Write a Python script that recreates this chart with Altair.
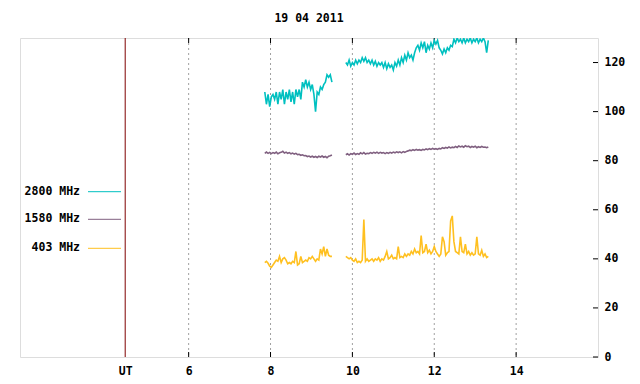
import altair as alt
import pandas as pd

# ---- data ----
title_text = "19 04 2011"
series_names = ["2800 MHz", "1580 MHz", "403 MHz"]
series_colors = ["#00c0c0", "#806080", "#ffc020"]

x_ticks = [6, 8, 10, 12, 14]
y_ticks = [0, 20, 40, 60, 80, 100, 120]
ut_hour = 4.45
x_domain = [1.88, 16.0]
y_domain = [0, 130]

seg1_start, seg2_start, step = 7.86, 9.84, 0.04

f2800_seg1 = [108, 103, 107, 102, 106, 107, 105, 108, 103, 108, 105, 109, 103, 108,
              105, 109, 104, 108, 103, 109, 106, 109, 105, 112, 110, 113, 110, 112,
              109, 111, 107, 100, 108, 107, 110, 109, 111, 112, 115, 114, 115, 112]
f2800_seg2 = [120, 119, 121, 118.5, 120, 119, 121, 119.5, 121, 120, 122, 120.5, 122, 120,
              121, 119.5, 121, 119, 120.5, 118.5, 120, 119, 120, 118, 120, 117.5, 119.5,
              118, 119, 117, 120, 118.5, 121, 119, 122, 120, 123, 121, 124, 122, 123, 121,
              124, 126, 127, 125, 128, 126, 128.5, 124, 127, 125.5, 128, 126, 129, 127.5,
              129, 126, 125, 123.5, 125.5, 124, 126, 125, 127, 126.5, 129.5, 128, 130,
              128.5, 129.5, 128, 130, 128, 129.5, 128.5, 130, 128, 129.5, 128.5, 130, 128,
              129.5, 128.5, 130, 128.5, 124, 129]

f1580_seg1 = [83, 83.5, 83, 83.4, 82.9, 83.3, 83, 83.5, 82.8, 83.2, 83.4, 83.8, 83.1, 83.5,
              83, 83.3, 82.8, 83.1, 82.7, 83, 82.5, 82.6, 82.2, 82.4, 82, 82.1, 81.7, 81.9,
              81.5, 81.8, 81.4, 81.7, 81.3, 81.8, 81.5, 81.9, 81.4, 81.7, 81.2, 81.8, 82, 82.3]
f1580_seg2 = [82.4, 82.8, 82.3, 82.9, 82.6, 83.1, 82.5, 82.9, 82.6, 83.2, 82.8, 83.3, 82.7,
              83, 82.9, 83.3, 83, 83.4, 83.1, 83.5, 83, 83.4, 83.1, 83.3, 82.9, 83.3, 83,
              83.4, 83.1, 83.5, 83.2, 83.6, 83.3, 83.6, 83.2, 83.7, 83.4, 83.8, 84, 84.3,
              84.1, 84.5, 84.2, 84.6, 84.3, 84.5, 84.2, 84.6, 84.4, 84.8, 84.5, 84.9, 84.6,
              85, 84.7, 84.9, 84.6, 85, 84.8, 85.3, 85, 85.4, 85.1, 85.6, 85.2, 85.5, 85.3,
              85.8, 85.4, 86, 85.6, 85.9, 85.5, 86.1, 85.7, 85.9, 85.4, 85.8, 85.5, 85.9,
              85.3, 85.7, 85.4, 85.8, 85.5, 85.6, 85.3, 85.6]

f403_seg1 = [38.5, 39, 38.2, 37, 36.5, 37.5, 38.5, 39.5, 39, 41, 38.5, 40, 40.5, 39.5,
             38, 38.5, 38, 39, 38.5, 43, 37.5, 38, 41, 38.5, 39, 39.5, 39, 40.5, 40, 41,
             40, 39, 40, 39.5, 44, 42, 45, 41, 44, 41.5, 41, 41]
f403_seg2 = [41, 40.5, 40, 40.5, 39.5, 39, 40, 38.5, 39, 38.5, 39.5, 56, 39, 40, 39, 39.5,
             40, 39, 40, 39.5, 40.5, 39, 40, 39.5, 41, 43, 40, 40.5, 41.5, 40, 40.5, 40,
             45, 40.5, 41, 40.5, 42, 41, 42, 41.5, 43, 42, 44, 42.5, 43, 42, 49.5, 42.5,
             43, 46, 42.5, 43.5, 42, 43, 45, 43, 42, 41, 42, 49, 47, 41.5, 42.5, 43, 55.5,
             57.5, 47, 43, 42.5, 42, 49, 43, 42.5, 46, 42, 43, 41.5, 42.5, 41.5, 42, 49,
             42, 41.5, 43.5, 41, 42, 40.5, 41]

# ---- build table ----
rows = []
for name, segs in zip(series_names, [(f2800_seg1, f2800_seg2),
                                      (f1580_seg1, f1580_seg2),
                                      (f403_seg1, f403_seg2)]):
    for k, (start, vals) in enumerate(zip([seg1_start, seg2_start], segs)):
        for i, v in enumerate(vals):
            rows.append({"t": round(start + step * i, 3), "v": v,
                         "series": name, "seg": f"{name}-{k}"})
df = pd.DataFrame(rows)

W, H = 578, 319
FONT = "DejaVu Sans Mono"
FS = 11.5

xs = alt.Scale(domain=x_domain, nice=False, zero=False)
ys = alt.Scale(domain=y_domain, nice=False)

base_axis_x = alt.Axis(values=[ut_hour] + x_ticks, labelExpr="datum.value < 5 ? 'UT' : datum.label",
                       ticks=False, tickSize=0, domain=False, grid=False, labelPadding=8,
                       labelFont=FONT, labelFontSize=FS, labelFontWeight="bold", labelColor="black",
                       labelFlush=False)
base_axis_y = alt.Axis(values=y_ticks, orient="right", ticks=False, tickSize=0, domain=False,
                       grid=False, labelPadding=6, labelFont=FONT, labelFontSize=FS,
                       labelFontWeight="bold", labelColor="black", labelFlush=False)

tick_df = pd.DataFrame({"t": x_ticks})
ytick_df = pd.DataFrame({"v": y_ticks})

grid = alt.Chart(tick_df).mark_rule(color="#a0a0a0", strokeDash=[2, 3], strokeWidth=1).encode(
    x=alt.X("t:Q", scale=xs, axis=base_axis_x, title=None))

ut_line = alt.Chart(pd.DataFrame({"t": [ut_hour]})).mark_rule(color="#7f0000", strokeWidth=1).encode(
    x=alt.X("t:Q", scale=xs))

xticks_bottom = alt.Chart(tick_df).mark_rule(color="black").encode(
    x=alt.X("t:Q", scale=xs), y=alt.value(H - 5), y2=alt.value(H))
xticks_top = alt.Chart(tick_df).mark_rule(color="black").encode(
    x=alt.X("t:Q", scale=xs), y=alt.value(0), y2=alt.value(5))
yticks = alt.Chart(ytick_df).mark_rule(color="black").encode(
    y=alt.Y("v:Q", scale=ys, axis=base_axis_y, title=None), x=alt.value(W - 5), x2=alt.value(W))

lines = alt.Chart(df).mark_line(strokeWidth=1.6, clip=True).encode(
    x=alt.X("t:Q", scale=xs),
    y=alt.Y("v:Q", scale=ys),
    color=alt.Color("series:N", scale=alt.Scale(domain=series_names, range=series_colors), legend=None),
    detail="seg:N",
)

# legend (manual, gnuplot style: label left, line right)
leg_df = pd.DataFrame({"series": series_names, "ly": [153.7, 181.3, 210.3]})
leg_text = alt.Chart(leg_df).mark_text(align="right", baseline="middle", font=FONT, fontSize=FS,
                                       fontWeight="bold", color="black").encode(
    x=alt.value(60), y=alt.Y("ly:Q", scale=None), text="series:N")
leg_lines = alt.Chart(leg_df).mark_rule(strokeWidth=1).encode(
    x=alt.value(68), x2=alt.value(101), y=alt.Y("ly:Q", scale=None),
    color=alt.Color("series:N", scale=alt.Scale(domain=series_names, range=series_colors), legend=None))

title = alt.Chart(pd.DataFrame({"s": [title_text]})).mark_text(
    align="center", baseline="middle", font=FONT, fontSize=FS, fontWeight="bold", color="black").encode(
    x=alt.value(W / 2), y=alt.value(-19), text="s:N")

chart = alt.layer(grid, ut_line, xticks_bottom, xticks_top, yticks, lines, leg_lines, leg_text, title).properties(
    width=W, height=H,
    autosize=alt.AutoSizeParams(type="none"),
    padding={"left": 12, "top": 30, "right": 34, "bottom": 19},
).configure_view(stroke="black", strokeWidth=1).configure(background="white")

chart.save("out.html", embed_options={"renderer": "svg", "actions": False})
